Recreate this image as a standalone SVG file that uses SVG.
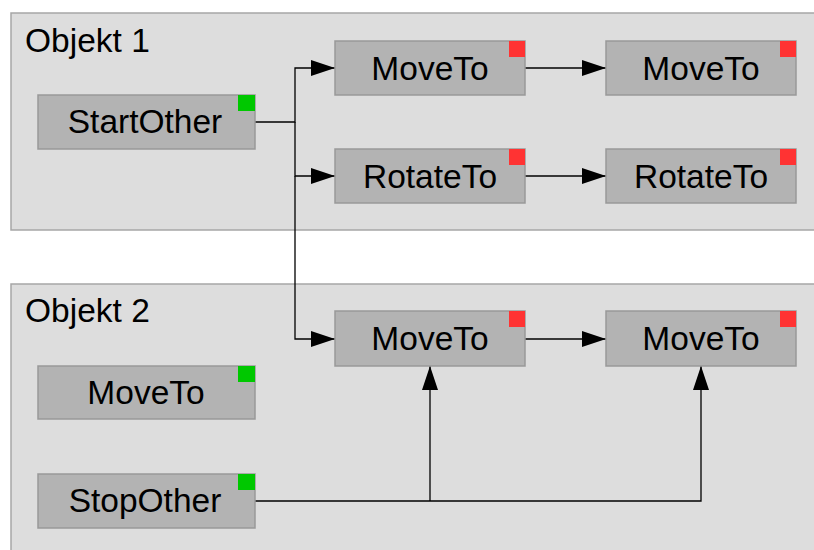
<svg xmlns="http://www.w3.org/2000/svg" width="814" height="550" viewBox="0 0 814 550">
<style>
.panel{fill:#dddddd;stroke:#a6a6a6;stroke-width:1.5}
.box{fill:#b3b3b3;stroke:#999999;stroke-width:1.5}
.red{fill:#ff3333}
.green{fill:#00c800}
text{font-family:"Liberation Sans",Arial,sans-serif;font-size:33.5px;fill:#000}
.lbl{text-anchor:middle}
.conn{fill:none;stroke:#000;stroke-width:1.3}
</style>
<defs>
<marker id="arr" markerUnits="userSpaceOnUse" markerWidth="24" markerHeight="16" refX="24" refY="8" orient="auto" viewBox="0 0 24 16">
<path d="M0,0 L24,8 L0,16 Z" fill="#000"/>
</marker>
</defs>
<g id="objekt1">
<rect class="panel" x="11" y="13" width="810" height="217"/>
<text x="25" y="52">Objekt 1</text>
</g>
<g id="objekt2">
<rect class="panel" x="11" y="284" width="810" height="280"/>
<text x="25" y="322">Objekt 2</text>
</g>
<g id="connectors">
<path class="conn" d="M255,122 H295 V68 H335" marker-end="url(#arr)"/>
<path class="conn" d="M295,122 V176 H335" marker-end="url(#arr)"/>
<path class="conn" d="M295,176 V339 H335" marker-end="url(#arr)"/>
<path class="conn" d="M525,68 H606" marker-end="url(#arr)"/>
<path class="conn" d="M525,176 H606" marker-end="url(#arr)"/>
<path class="conn" d="M525,339 H606" marker-end="url(#arr)"/>
<path class="conn" d="M255,501 H701 V366" marker-end="url(#arr)"/>
<path class="conn" d="M430,501 V366" marker-end="url(#arr)"/>
</g>
<g id="startOther">
<rect class="box" x="38" y="95" width="217" height="54"/>
<rect class="green" x="238" y="95" width="17" height="16"/>
<text class="lbl" x="145" y="133">StartOther</text>
</g>
<g id="moveTo1a">
<rect class="box" x="335" y="41" width="190" height="54"/>
<rect class="red" x="509" y="41" width="16" height="16"/>
<text class="lbl" x="430" y="80">MoveTo</text>
</g>
<g id="moveTo1b">
<rect class="box" x="606" y="41" width="190" height="54"/>
<rect class="red" x="780" y="41" width="16" height="16"/>
<text class="lbl" x="701" y="80">MoveTo</text>
</g>
<g id="rotateTo1a">
<rect class="box" x="335" y="149" width="190" height="54"/>
<rect class="red" x="509" y="149" width="16" height="16"/>
<text class="lbl" x="430" y="188">RotateTo</text>
</g>
<g id="rotateTo1b">
<rect class="box" x="606" y="149" width="190" height="54"/>
<rect class="red" x="780" y="149" width="16" height="16"/>
<text class="lbl" x="701" y="188">RotateTo</text>
</g>
<g id="moveTo2start">
<rect class="box" x="38" y="366" width="217" height="53"/>
<rect class="green" x="238" y="366" width="17" height="16"/>
<text class="lbl" x="146" y="404">MoveTo</text>
</g>
<g id="stopOther">
<rect class="box" x="38" y="474" width="217" height="54"/>
<rect class="green" x="238" y="474" width="17" height="16"/>
<text class="lbl" x="145" y="512">StopOther</text>
</g>
<g id="moveTo2a">
<rect class="box" x="335" y="311" width="190" height="55"/>
<rect class="red" x="509" y="311" width="16" height="16"/>
<text class="lbl" x="430" y="350">MoveTo</text>
</g>
<g id="moveTo2b">
<rect class="box" x="606" y="311" width="190" height="55"/>
<rect class="red" x="780" y="311" width="16" height="16"/>
<text class="lbl" x="701" y="350">MoveTo</text>
</g>
</svg>
